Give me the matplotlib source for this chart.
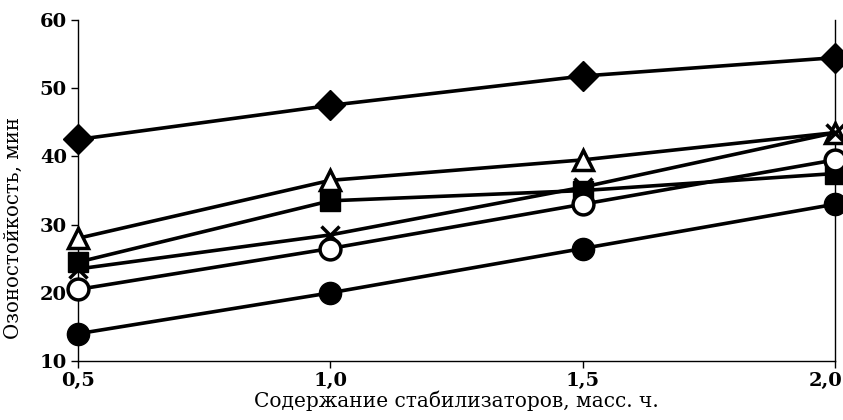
import matplotlib.pyplot as plt
import matplotlib.transforms as mtransforms
import numpy as np

plt.rcParams['font.family'] = ['DejaVu Serif']

conc = [0.5, 1.0, 1.5, 2.0]
diamonds = [42.5, 47.5, 51.8, 54.5]
triangles = [28.0, 36.5, 39.5, 43.5]
squares = [24.5, 33.5, 35.0, 37.5]
crosses = [23.5, 28.5, 35.5, 43.5]
open_circles = [20.5, 26.5, 33.0, 39.5]
filled_circles = [14.0, 20.0, 26.5, 33.0]

x_ticks = [0.5, 1.0, 1.5, 2.0]
x_labels = ['0,5', '1,0', '1,5', '2,0']
y_ticks = [10, 20, 30, 40, 50, 60]

fig = plt.figure(figsize=(8.43, 4.2), dpi=100)
ax = fig.add_axes([0.0925, 0.1405, 0.898, 0.8115])

style = dict(color='black', lw=2.6, clip_on=False, zorder=3)
ax.plot(conc, diamonds, marker='D', ms=15, mfc='black', mec='black', **style)
ax.plot(conc, triangles, marker='^', ms=15, mfc='white', mec='black', mew=2.5, **style)
ax.plot(conc, squares, marker='s', ms=15, mfc='black', mec='black', **style)
ax.plot(conc, crosses, marker='x', ms=13, mec='black', mew=2.5, **style)
ax.plot(conc, open_circles, marker='o', ms=15, mfc='white', mec='black', mew=2.5, **style)
ax.plot(conc, filled_circles, marker='o', ms=16, mfc='black', mec='black', **style)

ax.set_xlim(0.5, 2.0)
ax.set_ylim(10, 60)
ax.set_xticks(x_ticks)
ax.set_xticklabels(x_labels)
ax.set_yticks(y_ticks)
ax.tick_params(labelsize=14, direction='out', length=5, width=1, pad=3)
for lab in ax.get_xticklabels() + ax.get_yticklabels():
    lab.set_fontweight('bold')
# last x label pushed in so it stays inside the figure
last = ax.get_xticklabels()[-1]
last.set_ha('right')
last.set_transform(last.get_transform() + mtransforms.ScaledTranslation(7/100, 0, fig.dpi_scale_trans))
ax.spines['top'].set_visible(False)
for s in ['left', 'right', 'bottom']:
    ax.spines[s].set_linewidth(1)

ax.set_xlabel('Содержание стабилизаторов, масс. ч.', fontsize=14.5, labelpad=0)
ax.set_ylabel('Озоностойкость, мин', fontsize=14.2)
ax.yaxis.set_label_coords(-0.073, 0.39)

fig.savefig('out.png', dpi=100)
